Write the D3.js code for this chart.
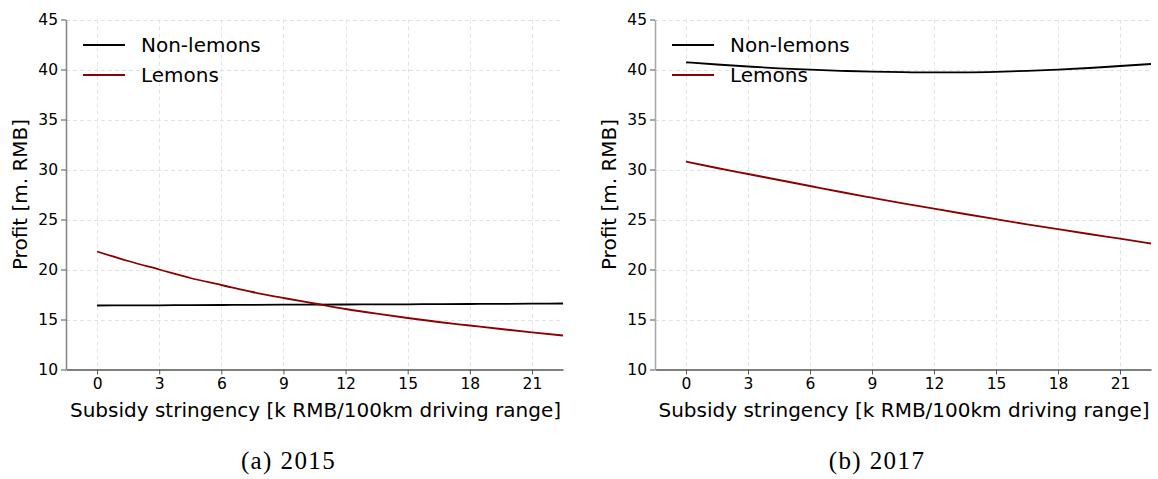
<!DOCTYPE html>
<html>
<head>
<meta charset="utf-8">
<script src="https://cdn.jsdelivr.net/npm/d3@7"></script>
<style>
  html, body { margin: 0; padding: 0; background: #fff; }
  svg { display: block; }
</style>
</head>
<body>
<svg id="chart" width="1158" height="479"></svg>
<script>
// Subsidy stringency grid (k RMB / 100 km driving range)
const stringency = [0, 1.5, 3, 4.5, 6, 7.5, 9, 10.5, 12, 13.5, 15, 16.5, 18, 19.5, 21, 22.5];

// Profit (m. RMB), 2015
const nonLemons2015 = [16.40, 16.41, 16.42, 16.44, 16.45, 16.46, 16.48, 16.49, 16.50, 16.51, 16.52, 16.54, 16.55, 16.56, 16.58, 16.60];
const lemons2015    = [21.80, 20.85, 20.00, 19.15, 18.45, 17.75, 17.15, 16.60, 16.05, 15.58, 15.15, 14.75, 14.40, 14.05, 13.72, 13.40];

// Profit (m. RMB), 2017
const nonLemons2017 = [40.72, 40.50, 40.30, 40.12, 39.98, 39.87, 39.78, 39.73, 39.71, 39.72, 39.77, 39.86, 39.98, 40.15, 40.35, 40.55];
const lemons2017    = [30.80, 30.15, 29.55, 28.95, 28.35, 27.75, 27.18, 26.62, 26.08, 25.55, 25.03, 24.52, 24.03, 23.55, 23.08, 22.60];

const xTicks = [0, 3, 6, 9, 12, 15, 18, 21];
const yTicks = [10, 15, 20, 25, 30, 35, 40, 45];
const seriesNames = ["Non-lemons", "Lemons"];
const seriesColors = ["#000000", "#8b0000"];
const captions = ["(a) 2015", "(b) 2017"];

const panels = [
  { left: 66,  right: 563,  caption: captions[0], series: [nonLemons2015, lemons2015], spine: "#888" },
  { left: 655, right: 1151, caption: captions[1], series: [nonLemons2017, lemons2017], spine: "#aaa" }
];

const plotTop = 19.5, plotBottom = 369.5;
const svg = d3.select("#chart");
const sansFont = "DejaVu Sans, sans-serif";

panels.forEach((p) => {
  const x = d3.scaleLinear().domain([-1.5, 22.5]).range([p.left, p.right]);
  const y = d3.scaleLinear().domain([10, 45]).range([plotBottom, plotTop]);
  const g = svg.append("g");

  // dashed grid
  g.append("g").selectAll("line").data(xTicks).join("line")
    .attr("x1", d => Math.round(x(d)) + 0.5).attr("x2", d => Math.round(x(d)) + 0.5)
    .attr("y1", plotTop).attr("y2", plotBottom)
    .attr("stroke", "#e3e3e3").attr("stroke-width", 1).attr("stroke-dasharray", "4,3");
  g.append("g").selectAll("line").data(yTicks.slice(1)).join("line")
    .attr("y1", d => Math.round(y(d)) + 0.5).attr("y2", d => Math.round(y(d)) + 0.5)
    .attr("x1", p.left).attr("x2", p.right)
    .attr("stroke", "#e3e3e3").attr("stroke-width", 1).attr("stroke-dasharray", "4,3");

  // axes
  const xAxis = d3.axisBottom(x).tickValues(xTicks).tickSize(5).tickPadding(3).tickSizeOuter(0);
  const yAxis = d3.axisLeft(y).tickValues(yTicks).tickSize(5).tickPadding(3).tickSizeOuter(0);

  const gx = g.append("g").attr("transform", `translate(0,${plotBottom})`).call(xAxis);
  gx.select(".domain").attr("stroke", "#555").attr("stroke-width", 1.6);
  gx.selectAll(".tick line").attr("stroke", "#555").attr("stroke-width", 1);
  gx.selectAll("text").attr("font-family", sansFont).attr("font-size", 15.5).attr("fill", "#000");

  const gy = g.append("g").attr("transform", `translate(${p.left},0)`).call(yAxis);
  gy.select(".domain").attr("stroke", p.spine).attr("stroke-width", 1.6);
  gy.selectAll(".tick line").attr("stroke", "#555").attr("stroke-width", 1);
  gy.selectAll("text").attr("font-family", sansFont).attr("font-size", 15.5).attr("fill", "#000");

  // series lines
  const line = d3.line()
    .x((d, i) => x(stringency[i]))
    .y(d => y(d))
    .curve(d3.curveMonotoneX);
  p.series.forEach((vals, si) => {
    g.append("path").datum(vals)
      .attr("d", line)
      .attr("fill", "none")
      .attr("stroke", seriesColors[si])
      .attr("stroke-width", 1.8);
  });

  // legend
  const lg = g.append("g").attr("transform", `translate(${p.left + 17},0)`);
  seriesNames.forEach((name, si) => {
    const cy = 45 + si * 30;
    lg.append("line").attr("x1", 0).attr("x2", 42).attr("y1", cy).attr("y2", cy)
      .attr("stroke", seriesColors[si]).attr("stroke-width", 1.8);
    lg.append("text").attr("x", 58).attr("y", cy + 7)
      .attr("font-family", sansFont).attr("font-size", 20).attr("fill", "#000")
      .text(name);
  });

  // axis titles
  g.append("text")
    .attr("x", (p.left + p.right) / 2 + 1).attr("y", 417)
    .attr("text-anchor", "middle")
    .attr("font-family", sansFont).attr("font-size", 20).attr("fill", "#000")
    .text("Subsidy stringency [k RMB/100km driving range]");
  g.append("text")
    .attr("transform", `translate(${p.left - 39},${(plotTop + plotBottom) / 2}) rotate(-90)`)
    .attr("text-anchor", "middle")
    .attr("font-family", sansFont).attr("font-size", 20).attr("fill", "#000")
    .text("Profit [m. RMB]");

  // sub-figure caption
  g.append("text")
    .attr("x", (p.left + p.right) / 2 - 26).attr("y", 469)
    .attr("text-anchor", "middle")
    .attr("font-family", "Liberation Serif, serif").attr("font-size", 25)
    .attr("letter-spacing", 1.4).attr("fill", "#000")
    .text(p.caption);
});
</script>
</body>
</html>
